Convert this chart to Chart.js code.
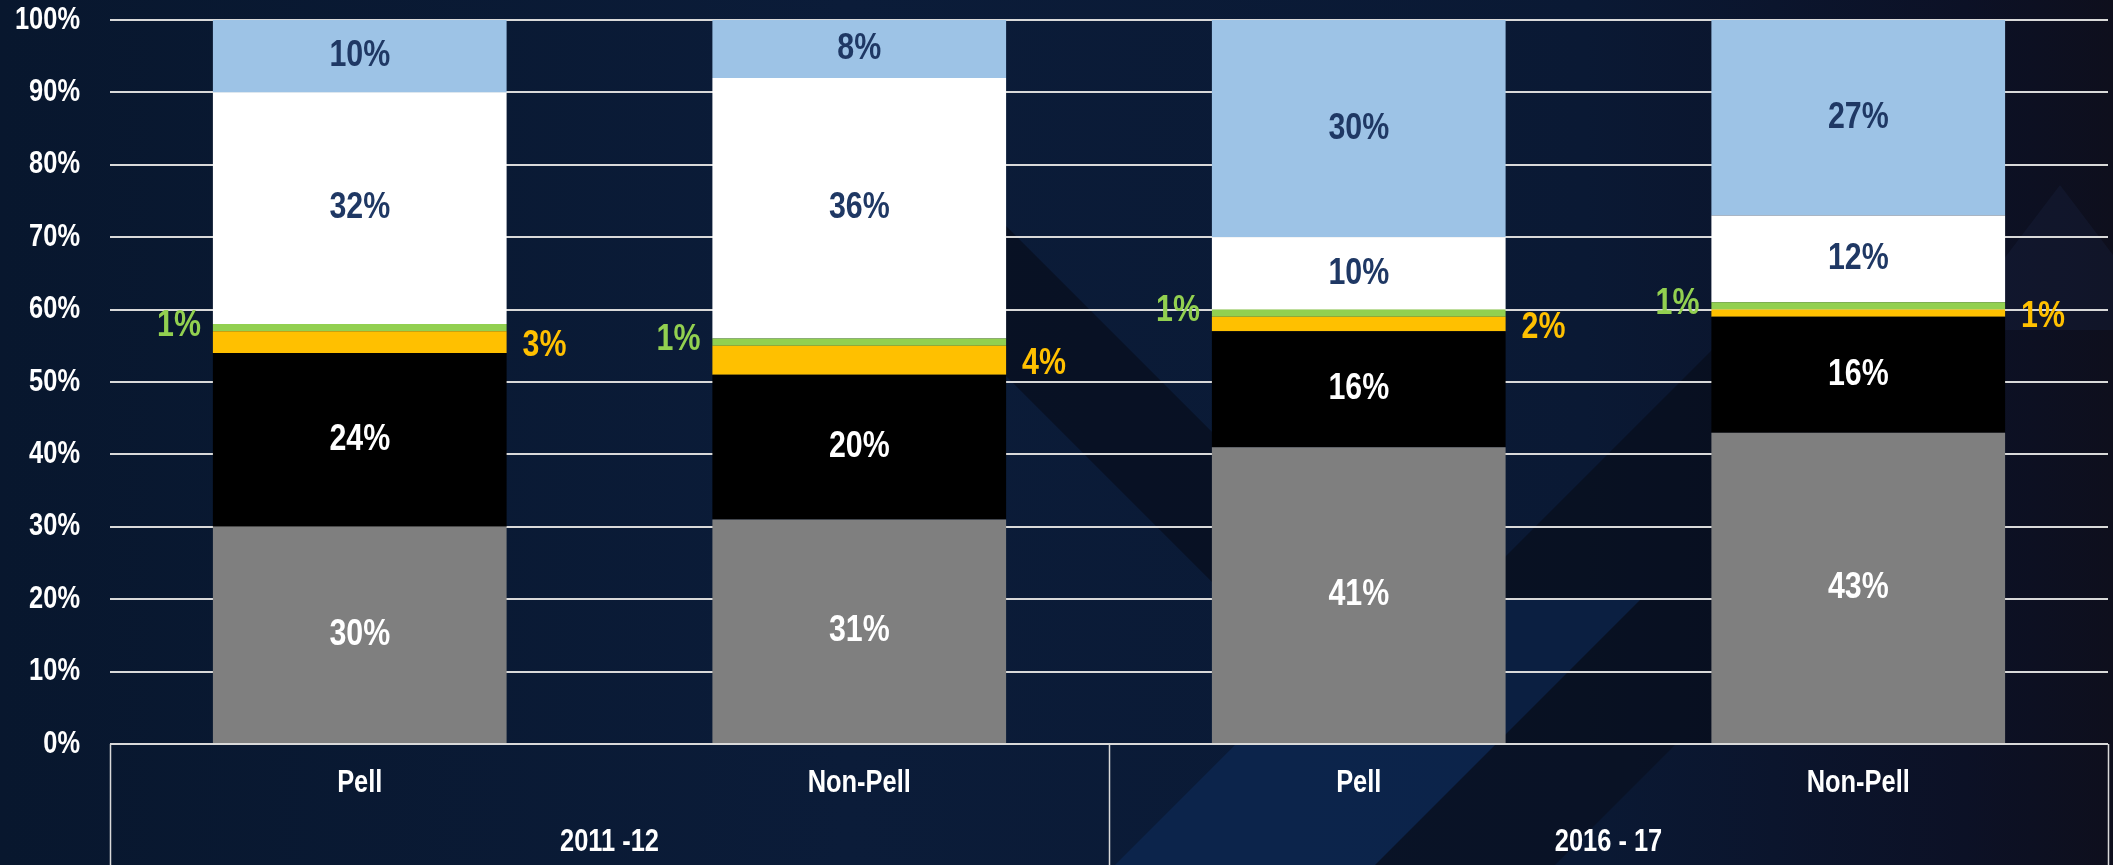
<!DOCTYPE html>
<html>
<head>
<meta charset="utf-8">
<script src="https://cdn.jsdelivr.net/npm/chart.js@4.4.1/dist/chart.umd.min.js"></script>
<style>
    html, body { margin: 0; padding: 0; background: #0a1a33; }
    #wrap { width: 2113px; height: 865px; }
</style>
</head>
<body>
<div id="wrap"><canvas id="chart" width="2113" height="865"></canvas></div>
<script>
// data
const categories = ['Pell', 'Non-Pell', 'Pell', 'Non-Pell'];
const groups = ['2011 -12', '2016 - 17'];
const grayValues = [30, 31, 41, 43];
const blackValues = [24, 20, 16, 16];
const yellowValues = [3, 4, 2, 1];
const greenValues = [1, 1, 1, 1];
const whiteValues = [32, 36, 10, 12];
const blueValues = [10, 8, 30, 27];
const yTicks = [0, 10, 20, 30, 40, 50, 60, 70, 80, 90, 100];

// no Arial Narrow here, so squeeze Liberation Sans Bold horizontally
const FONT = "'Liberation Sans', Arial, sans-serif";
const NARROW = 0.82;
const NAVY = '#1F3864';

function narrowText(ctx, text, x, y, size, align, color) {
    ctx.save();
    ctx.translate(x, y);
    ctx.scale(NARROW, 1);
    ctx.font = 'bold ' + size + 'px ' + FONT;
    ctx.textAlign = align;
    ctx.textBaseline = 'middle';
    ctx.fillStyle = color;
    ctx.fillText(text, 0, 0);
    ctx.restore();
}

function poly(ctx, color, pts) {
    ctx.fillStyle = color;
    ctx.beginPath();
    pts.forEach((p, i) => i ? ctx.lineTo(p[0], p[1]) : ctx.moveTo(p[0], p[1]));
    ctx.closePath();
    ctx.fill();
}

// background: dark navy with diagonal stripes
const backgroundPlugin = {
    id: 'background',
    beforeDraw(chart) {
        const ctx = chart.ctx;
        const w = chart.width, h = chart.height;
        ctx.save();
        const g = ctx.createLinearGradient(0, 0, w, 0);
        g.addColorStop(0, '#08172e');
        g.addColorStop(0.4, '#0b1c39');
        g.addColorStop(0.75, '#0a1934');
        g.addColorStop(0.93, '#0c1126');
        g.addColorStop(1, '#0e0f1d');
        ctx.fillStyle = g;
        ctx.fillRect(0, 0, w, h);

        // dark chevron band inside the plot
        poly(ctx, 'rgba(7, 12, 24, 0.6)', [
            [960, 180], [1421, 641], [1800, 262], [1711, 744], [1374, 744], [810, 180]
        ]);
        // dark stripe continuing in the axis area
        poly(ctx, 'rgba(7, 12, 24, 0.5)', [
            [2240 - 865, 865], [2420 - 865, 865], [2420 - 744, 744], [2240 - 744, 744]
        ]);
        // lighter blue band in the axis area
        poly(ctx, 'rgba(14, 45, 95, 0.5)', [
            [1980 - 865, 865], [2240 - 865, 865], [2240 - 600, 600], [1980 - 600, 600]
        ]);
        // faint lighter peak at top right
        poly(ctx, 'rgba(30, 45, 80, 0.22)', [
            [1950, 330], [2060, 185], [2113, 255], [2113, 330]
        ]);
        ctx.restore();
    }
};

// data labels: inside segments, yellow to the right, green to the left
const labelPlugin = {
    id: 'segmentLabels',
    afterDatasetsDraw(chart) {
        const ctx = chart.ctx;
        chart.data.datasets.forEach((ds, di) => {
            const meta = chart.getDatasetMeta(di);
            meta.data.forEach((bar, i) => {
                const text = ds.data[i] + '%';
                const cy = (bar.y + bar.base) / 2;
                const left = bar.x - bar.width / 2;
                const right = bar.x + bar.width / 2;
                if (ds.labelSide === 'right') {
                    narrowText(ctx, text, right + 16, cy + 4, 37, 'left', ds.labelColor);
                } else if (ds.labelSide === 'left') {
                    narrowText(ctx, text, left - 12, cy - 2, 37, 'right', ds.labelColor);
                } else {
                    narrowText(ctx, text, bar.x, cy, 37, 'center', ds.labelColor);
                }
            });
        });
    }
};

// axis texts and the grouped x axis
const axisPlugin = {
    id: 'axisTexts',
    afterDraw(chart) {
        const ctx = chart.ctx;
        const x = chart.scales.x;
        const y = chart.scales.y;
        const area = chart.chartArea;
        yTicks.forEach(v => {
            narrowText(ctx, v + '%', area.left - 30, y.getPixelForValue(v), 31, 'right', '#ffffff');
        });
        categories.forEach((c, i) => {
            narrowText(ctx, c, x.getPixelForValue(i), 783, 31, 'center', '#ffffff');
        });
        groups.forEach((g, i) => {
            narrowText(ctx, g, x.getPixelForValue(i * 2 + 0.5), 842, 31, 'center', '#ffffff');
        });
        ctx.save();
        ctx.strokeStyle = '#d9d9d9';
        ctx.lineWidth = 1.5;
        [-0.5, 1.5, 3.5].forEach(v => {
            const px = Math.round(x.getPixelForValue(v)) + 0.5;
            ctx.beginPath();
            ctx.moveTo(px, area.bottom);
            ctx.lineTo(px, chart.height);
            ctx.stroke();
        });
        ctx.restore();
    }
};

function makeDataset(label, values, color, labelColor, side) {
    return {
        label: label,
        data: values,
        backgroundColor: color,
        borderWidth: 0,
        labelColor: labelColor,
        labelSide: side
    };
}

new Chart(document.getElementById('chart').getContext('2d'), {
    type: 'bar',
    data: {
        labels: categories,
        datasets: [
            makeDataset('gray', grayValues, '#7f7f7f', '#ffffff', 'center'),
            makeDataset('black', blackValues, '#000000', '#ffffff', 'center'),
            makeDataset('yellow', yellowValues, '#ffc000', '#ffc000', 'right'),
            makeDataset('green', greenValues, '#92d050', '#92d050', 'left'),
            makeDataset('white', whiteValues, '#ffffff', NAVY, 'center'),
            makeDataset('blue', blueValues, '#9dc3e6', NAVY, 'center')
        ]
    },
    options: {
        responsive: false,
        animation: false,
        devicePixelRatio: 1,
        layout: { padding: { top: 20, right: 5, left: 0, bottom: 0 } },
        datasets: {
            bar: { categoryPercentage: 1, barPercentage: 0.588 }
        },
        plugins: {
            legend: { display: false },
            tooltip: { enabled: false }
        },
        scales: {
            x: {
                stacked: true,
                grid: { display: false, drawTicks: false },
                border: { display: false },
                ticks: { display: false },
                afterFit(scale) {
                    scale.height = 121;
                    scale.paddingLeft = 0;
                    scale.paddingRight = 0;
                }
            },
            y: {
                stacked: true,
                min: 0,
                max: 100,
                grid: { color: '#d9d9d9', lineWidth: 2, drawTicks: false },
                border: { display: false },
                afterBuildTicks(scale) {
                    scale.ticks = yTicks.map(v => ({ value: v }));
                },
                ticks: { display: false },
                afterFit(scale) {
                    scale.width = 110;
                    scale.paddingTop = 0;
                    scale.paddingBottom = 0;
                }
            }
        }
    },
    plugins: [backgroundPlugin, labelPlugin, axisPlugin]
});
</script>
</body>
</html>
